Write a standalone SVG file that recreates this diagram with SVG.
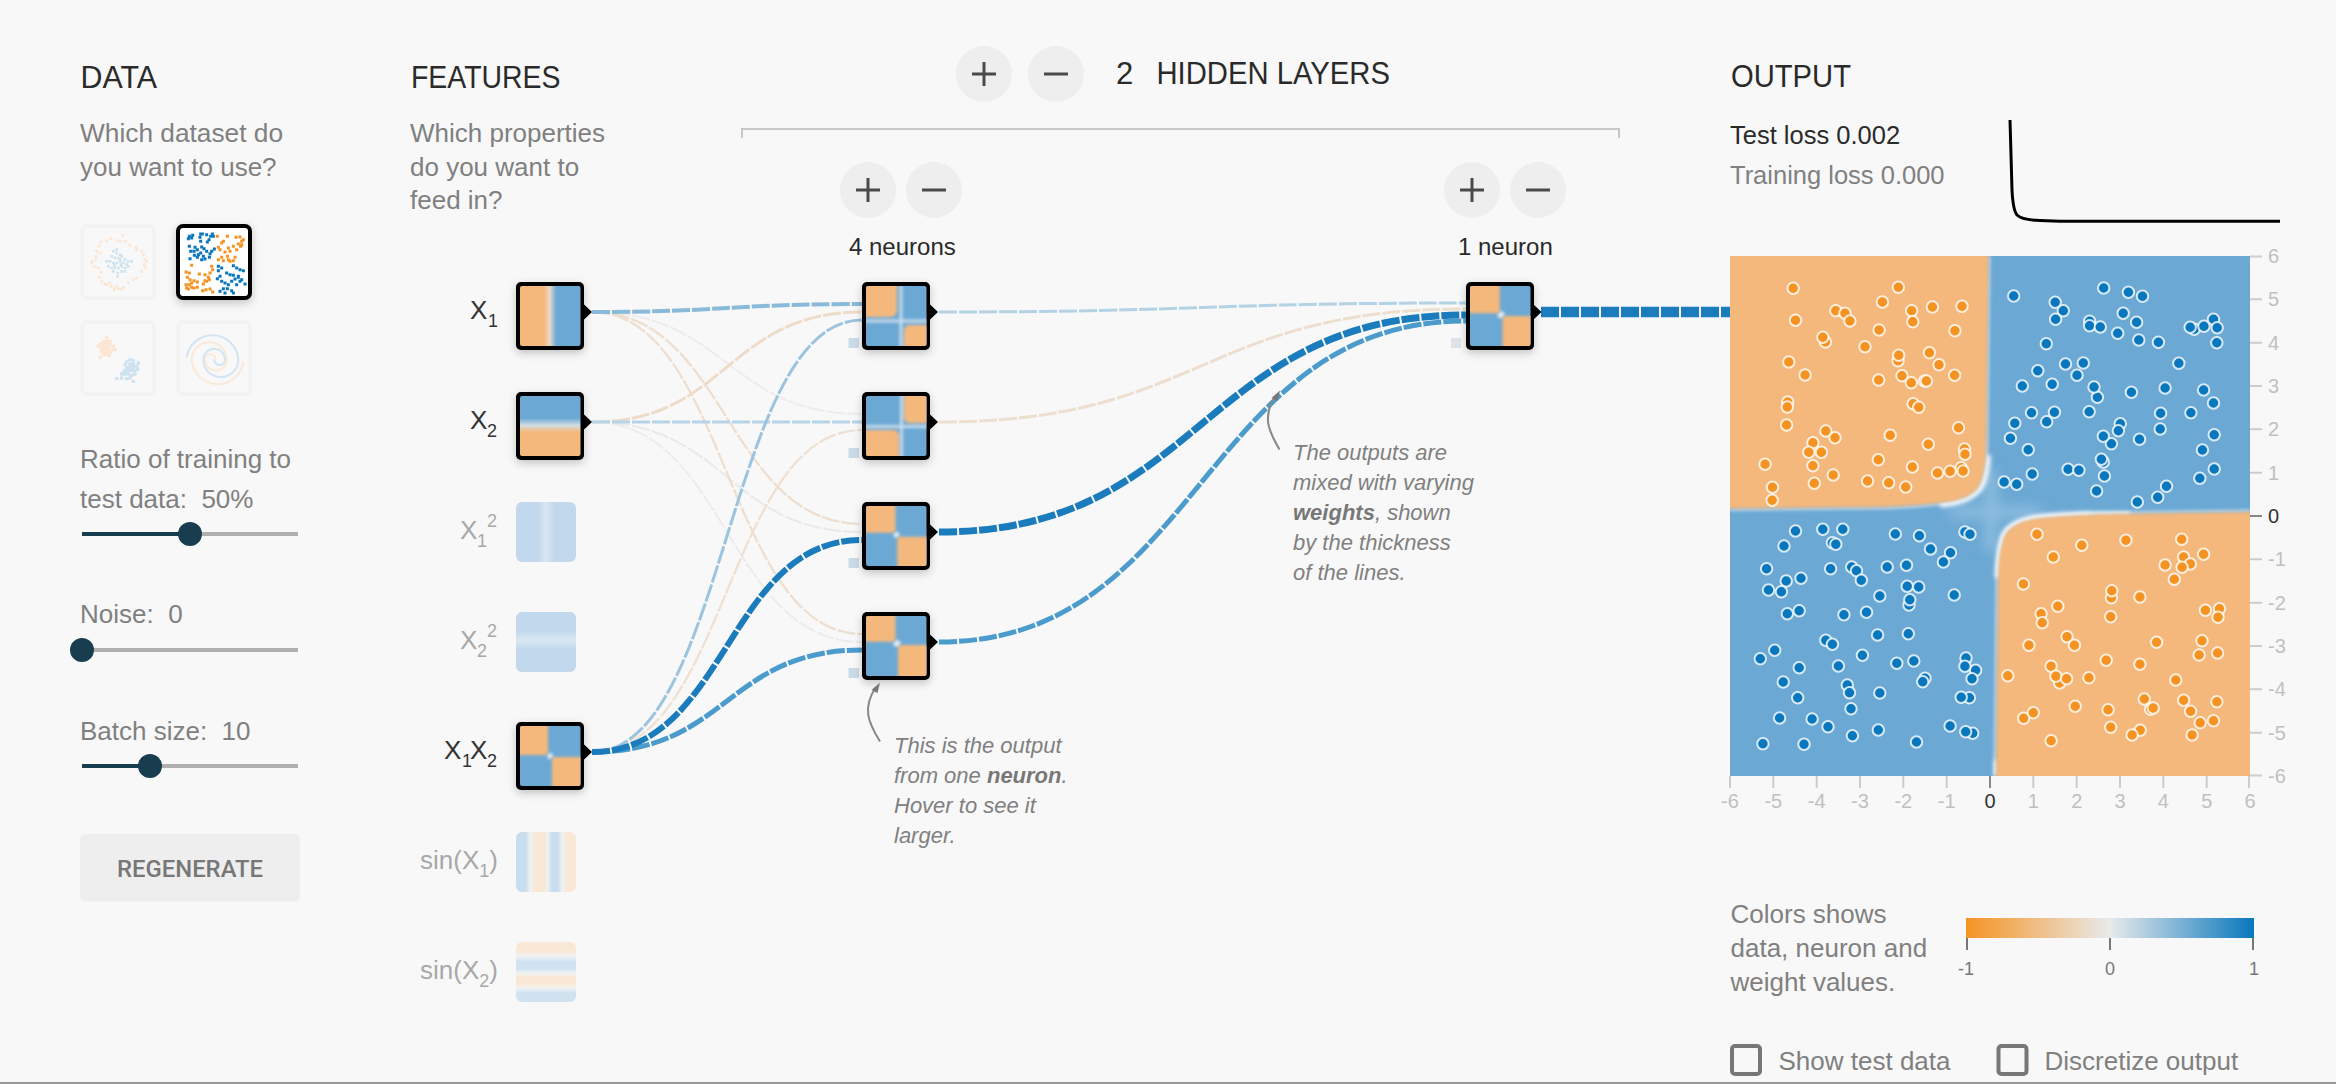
<svg xmlns="http://www.w3.org/2000/svg" width="2336" height="1084" viewBox="0 0 2336 1084">
<style>
text{font-family:"Liberation Sans",Arial,sans-serif;white-space:pre}
.h{font-size:31px;fill:#2a2a2a}
.p{font-size:26px;fill:#808080}
.feat{font-size:26px;fill:#333}
.feat tspan.s,.featd tspan.s{font-size:18px}
.featd{font-size:26px;fill:#a8a8a8}
.sub{font-size:18px;fill:#333}
.subd{font-size:18px;fill:#a8a8a8}
.note{font-size:22px;font-style:italic;fill:#808080}
.note tspan{font-weight:bold;fill:#777}
.n{font-size:24px;fill:#2a2a2a}
.ax{font-size:20px;fill:#c0c0c0}
.ax0{font-size:20px;fill:#333}
.leg{font-size:18px;fill:#777;text-anchor:middle}
.axm{text-anchor:middle}
.btn{fill:#eee}
.ic{stroke:#4a4a4a;stroke-width:3;fill:none}
.track{stroke:#b0b0b0;stroke-width:4}
.fill{stroke:#183d4e;stroke-width:4}
.knob{fill:#183d4e}
.thumb{fill:#f8f8f8;stroke:#f3f3f3;stroke-width:4}
.dsq{fill:none;stroke-linecap:square;stroke-width:8}
.dso{stroke:#fbe6d3}
.dsb{stroke:#cfe2f0}
.dso2{stroke:#f59322}
.dsb2{stroke:#0877bd}
.spi{fill:none;stroke-width:6}
.l{fill:none;stroke-dasharray:18 2}
.box{fill:#000}
.tri{fill:#000}
.mini{fill:#c9dbe7}
.hb{fill:#6ba8d4}
.ho{fill:#f5b87b}
.cross{fill:none;stroke:#dfe9f0;stroke-width:3;stroke-opacity:.8}
.do circle{fill:#f59322}
.db circle{fill:#0877bd}
.do circle,.db circle{r:5.700px;stroke:#fff;stroke-opacity:.8;stroke-width:2}
.tk{stroke:#ccc;stroke-width:2}
.tk0{stroke:#888;stroke-width:2}
.chk{fill:none;stroke:#777;stroke-width:4}
.arr{fill:none;stroke:#888;stroke-width:2}
.arh{fill:#777}
</style>
<defs>
<filter id="shadow" x="-30%" y="-30%" width="160%" height="170%"><feDropShadow dx="0" dy="3" stdDeviation="4" flood-color="#000" flood-opacity=".22"/></filter>
<filter id="b1" filterUnits="userSpaceOnUse" x="-6" y="-6" width="74" height="74"><feGaussianBlur stdDeviation="1.500"/></filter>
<filter id="bmap" x="-5%" y="-5%" width="110%" height="110%"><feGaussianBlur stdDeviation="1.500"/></filter>
<filter id="bmap2" x="-50%" y="-50%" width="200%" height="200%"><feGaussianBlur stdDeviation="6"/></filter>
<filter id="bmap3" x="-30%" y="-30%" width="160%" height="160%"><feGaussianBlur stdDeviation="2"/></filter>
<clipPath id="c60"><rect width="60.500" height="60" rx="2"/></clipPath>
<clipPath id="cmap"><rect x="1730" y="256" width="520" height="520"/></clipPath>
<linearGradient id="gx1"><stop offset=".4" stop-color="#f5b87b"/><stop offset=".49" stop-color="#e8d9c8"/><stop offset=".6" stop-color="#6ba8d4"/></linearGradient>
<linearGradient id="gx2" x2="0" y2="1"><stop offset=".37" stop-color="#6ba8d4"/><stop offset=".49" stop-color="#d2dde2"/><stop offset=".6" stop-color="#f5b87b"/></linearGradient>
<linearGradient id="gx1s"><stop offset=".36" stop-color="#c2d8ec"/><stop offset=".5" stop-color="#d9e7f2"/><stop offset=".64" stop-color="#c2d8ec"/></linearGradient>
<linearGradient id="gx2s" x2="0" y2="1"><stop offset=".31" stop-color="#c2d8ec"/><stop offset=".47" stop-color="#d9e7f2"/><stop offset=".63" stop-color="#c2d8ec"/></linearGradient>
<linearGradient id="gs1"><stop offset=".16" stop-color="#c8ddee"/><stop offset=".24" stop-color="#eef1f2"/><stop offset=".31" stop-color="#fae8d6"/><stop offset=".47" stop-color="#fae8d6"/><stop offset=".53" stop-color="#eef1f2"/><stop offset=".6" stop-color="#c8ddee"/><stop offset=".7" stop-color="#c8ddee"/><stop offset=".77" stop-color="#eef1f2"/><stop offset=".84" stop-color="#fae8d6"/></linearGradient>
<linearGradient id="gs2" x2="0" y2="1"><stop offset=".15" stop-color="#fae8d6"/><stop offset=".24" stop-color="#eff2f3"/><stop offset=".33" stop-color="#cfe2f0"/><stop offset=".44" stop-color="#cfe2f0"/><stop offset=".52" stop-color="#eff2f3"/><stop offset=".58" stop-color="#fae8d6"/><stop offset=".7" stop-color="#fae8d6"/><stop offset=".77" stop-color="#eff2f3"/><stop offset=".85" stop-color="#cfe2f0"/></linearGradient>
<linearGradient id="gleg"><stop offset="0" stop-color="#f59322"/><stop offset=".5" stop-color="#e8eaeb"/><stop offset="1" stop-color="#0877bd"/></linearGradient>
<path id="tri" d="M68,22.500 L76,30 L68,37.500Z"/>
</defs>
<rect id="bg" width="2336" height="1084" fill="#f8f8f8"/>
<rect id="baseline" y="1082" width="2336" height="2" fill="#999"/>

<g id="data-panel">
<text class="h" x="80.500" y="88" textLength="76.500" lengthAdjust="spacingAndGlyphs">DATA</text>
<text class="p" x="80" y="142" textLength="203" lengthAdjust="spacingAndGlyphs">Which dataset do</text>
<text class="p" x="80" y="176">you want to use?</text>
<g id="ds-circle"><rect class="thumb" x="82" y="226" width="72" height="72" rx="5"/>
<g transform="translate(75,218) scale(.33333)">
<path class="dsq dso" d="M143 52h.1M125 68h.1M108 62h.1M95 68h.1M78 72h.1M72 85h.1M65 100h.1M62 115h.1M52 130h.1M58 145h.1M70 150h.1M78 162h.1M72 178h.1M80 190h.1M95 200h.1M108 205h.1M118 215h.1M130 212h.1M145 208h.1M160 195h.1M175 185h.1M185 180h.1M200 160h.1M212 148h.1M215 130h.1M205 110h.1M200 100h.1M185 95h.1M165 82h.1M150 70h.1M135 70h.1M118 210h.1M125 205h.1M140 215h.1M105 195h.1M90 198h.1M75 105h.1M62 125h.1M50 135h.1M210 125h.1M208 140h.1M182 88h.1"/>
<path class="dsq dsb" d="M115 100h.1M125 105h.1M135 110h.1M110 115h.1M120 120h.1M130 120h.1M140 115h.1M150 125h.1M160 130h.1M170 130h.1M95 130h.1M105 130h.1M115 135h.1M125 135h.1M135 130h.1M145 135h.1M155 140h.1M100 145h.1M110 150h.1M120 150h.1M130 150h.1M140 145h.1M150 150h.1M160 145h.1M128 165h.1M128 175h.1M115 160h.1M140 160h.1M150 160h.1M135 125h.1M125 95h.1M118 142h.1M138 140h.1"/>
</g></g>
<g id="ds-xor"><rect x="178" y="226" width="72" height="72" rx="5" fill="#fff" stroke="#000" stroke-width="4" filter="url(#shadow)"/>
<g transform="translate(170,218) scale(.33333)">
<path class="dsq dsb2" style="stroke-width:9" d="M58 55h.1M65 60h.1M68 52h.1M55 62h.1M92 48h.1M97 48h.1M90 58h.1M92 70h.1M110 50h.1M127 48h.1M122 55h.1M117 65h.1M112 72h.1M130 55h.1M58 85h.1M75 88h.1M62 100h.1M72 100h.1M82 95h.1M95 87h.1M102 92h.1M110 100h.1M92 105h.1M85 110h.1M100 115h.1M105 123h.1M82 118h.1M60 122h.1M73 112h.1M118 118h.1M125 100h.1M133 93h.1M120 107h.1M95 125h.1M145 145h.1M155 150h.1M145 158h.1M190 143h.1M200 150h.1M210 155h.1M220 158h.1M150 175h.1M142 182h.1M155 190h.1M170 165h.1M180 170h.1M190 172h.1M205 178h.1M195 183h.1M215 185h.1M225 198h.1M210 190h.1M185 190h.1M165 195h.1M175 200h.1M150 220h.1M160 212h.1M172 212h.1M185 218h.1M190 225h.1M165 225h.1M200 200h.1M205 175h.1"/>
<path class="dsq dso2" style="stroke-width:9" d="M142 55h.1M172 55h.1M198 58h.1M210 57h.1M160 70h.1M155 75h.1M215 70h.1M220 65h.1M205 78h.1M212 85h.1M190 85h.1M175 90h.1M180 100h.1M200 95h.1M145 88h.1M150 95h.1M165 102h.1M145 125h.1M155 118h.1M172 115h.1M160 128h.1M175 125h.1M195 118h.1M190 128h.1M180 130h.1M215 80h.1M48 162h.1M58 165h.1M65 142h.1M88 168h.1M125 145h.1M128 155h.1M120 165h.1M105 170h.1M115 178h.1M52 178h.1M60 185h.1M65 195h.1M48 200h.1M58 200h.1M50 210h.1M72 188h.1M82 192h.1M72 210h.1M82 208h.1M110 190h.1M100 198h.1M105 188h.1M118 185h.1M98 218h.1M108 215h.1M120 213h.1M128 222h.1M55 213h.1M65 208h.1"/>
</g></g>
<g id="ds-gauss"><rect class="thumb" x="82" y="322" width="72" height="72" rx="5"/>
<g transform="translate(75,218) scale(.33333)">
<path class="dsq dso" style="stroke-width:10" d="M95 358h.1M85 370h.1M95 370h.1M105 370h.1M75 378h.1M85 380h.1M95 380h.1M105 380h.1M115 385h.1M70 385h.1M80 390h.1M90 390h.1M100 390h.1M110 395h.1M120 395h.1M78 400h.1M88 400h.1M98 400h.1M108 402h.1M85 410h.1M95 410h.1M75 418h.1M103 412h.1"/>
<path class="dsq dsb" style="stroke-width:10" d="M165 425h.1M175 428h.1M155 432h.1M150 440h.1M165 438h.1M175 438h.1M190 435h.1M155 448h.1M165 448h.1M175 448h.1M185 445h.1M148 458h.1M158 458h.1M168 458h.1M178 458h.1M188 455h.1M140 468h.1M150 468h.1M160 468h.1M170 472h.1M180 468h.1M125 482h.1M140 480h.1M155 482h.1M175 490h.1M165 480h.1"/>
</g></g>
<g id="ds-spiral"><rect class="thumb" x="178" y="322" width="72" height="72" rx="5"/>
<g transform="translate(75,218) scale(.33333)">
<path class="spi" stroke="#fbe9d8" d="M505 432A78 78 0 0 1 350 425A52.500 52.500 0 0 1 455 425A32.500 32.500 0 0 1 390 425A16 16 0 0 1 422 425"/>
<path class="spi" stroke="#d3e5f2" d="M335 418A78 78 0 0 1 490 425A52.500 52.500 0 0 1 385 425A32.500 32.500 0 0 1 450 425A16 16 0 0 1 418 425"/>
</g></g>
<text class="p" x="80" y="467.500">Ratio of training to</text>
<text class="p" x="80" y="507.500">test data:  50%</text>
<g id="slider-ratio"><line class="track" x1="190" y1="534" x2="298" y2="534"/><line class="fill" x1="82" y1="534" x2="190" y2="534"/><circle class="knob" cx="190" cy="534" r="12"/></g>
<text class="p" x="80" y="622.500">Noise:  0</text>
<g id="slider-noise"><line class="track" x1="82" y1="650" x2="298" y2="650"/><circle class="knob" cx="82" cy="650" r="12"/></g>
<text class="p" x="80" y="739.500">Batch size:  10</text>
<g id="slider-batch"><line class="track" x1="150" y1="766" x2="298" y2="766"/><line class="fill" x1="82" y1="766" x2="150" y2="766"/><circle class="knob" cx="150" cy="766" r="12"/></g>
<g id="regenerate"><rect x="80" y="834" width="220" height="67.500" rx="5" fill="#eee"/>
<text x="190" y="876.500" text-anchor="middle" textLength="146" lengthAdjust="spacingAndGlyphs" style="font-family:Roboto,sans-serif;font-weight:500;font-size:24px;fill:#777">REGENERATE</text></g>
</g>

<g id="features-head">
<text class="h" x="411" y="88" textLength="149.500" lengthAdjust="spacingAndGlyphs">FEATURES</text>
<text class="p" x="410" y="142">Which properties</text>
<text class="p" x="410" y="176">do you want to</text>
<text class="p" x="410" y="209">feed in?</text>
</g>

<g id="layers-head">
<g id="btn-layer-add"><circle class="btn" cx="984" cy="74" r="28"/><path class="ic" d="M972,74H996M984,62V86"/></g>
<g id="btn-layer-rem"><circle class="btn" cx="1056" cy="74" r="28"/><path class="ic" d="M1044,74H1068"/></g>
<text class="h" x="1116" y="84">2</text>
<text class="h" x="1156.500" y="84" textLength="233.500" lengthAdjust="spacingAndGlyphs">HIDDEN LAYERS</text>
<path id="bracket" d="M742,138V129H1619V138" fill="none" stroke="#c8c8c8" stroke-width="2"/>
<g id="btn-l1-add"><circle class="btn" cx="868" cy="190" r="28"/><path class="ic" d="M856,190H880M868,178V202"/></g>
<g id="btn-l1-rem"><circle class="btn" cx="934" cy="190" r="28"/><path class="ic" d="M922,190H946"/></g>
<g id="btn-l2-add"><circle class="btn" cx="1472" cy="190" r="28"/><path class="ic" d="M1460,190H1484M1472,178V202"/></g>
<g id="btn-l2-rem"><circle class="btn" cx="1538" cy="190" r="28"/><path class="ic" d="M1526,190H1550"/></g>
<text class="n" x="849" y="255">4 neurons</text>
<text class="n" x="1458" y="255">1 neuron</text>
</g>

<g id="connectors">
<path class="l" stroke="#ececec" stroke-width="2" d="M592,312C727,312 727,414 862,414"/>
<path class="l" stroke="#ececec" stroke-width="2" d="M592,422C727,422 727,642 862,642"/>
<path class="l" stroke="#e6eaee" stroke-width="2" d="M592,422C727,422 727,532 862,532"/>
<path class="l" stroke="#eddfcf" stroke-width="2.300" d="M592,312C727,312 727,524 862,524"/>
<path class="l" stroke="#eddfcf" stroke-width="2.300" d="M592,312C727,312 727,634 862,634"/>
<path class="l" stroke="#eee1d2" stroke-width="2.300" d="M592,752C727,752 727,430 862,430"/>
<path class="l" stroke="#eddcc8" stroke-width="3" d="M592,422C727,422 727,312 862,312"/>
<path class="l" stroke="#b7d3e7" stroke-width="3" d="M592,422H862"/>
<path class="l" stroke="#9cc4de" stroke-width="3" d="M592,752C727,752 727,320 862,320"/>
<path class="l" stroke="#8abad9" stroke-width="4" d="M592,312C727,312 727,304 862,304"/>
<path class="l" stroke="#4b9bcc" stroke-width="5" d="M592,752C727,752 727,650 862,650"/>
<path class="l" stroke="#1a7bbd" stroke-width="6" d="M592,752C727,752 727,540 862,540"/>
<path class="l" stroke="#b3d2e6" stroke-width="3" d="M939,312C1202,312 1202,303 1466,303"/>
<path class="l" stroke="#eddfcf" stroke-width="3" d="M939,422C1202,422 1202,309 1466,309"/>
<path class="l" stroke="#4b9bcc" stroke-width="5" d="M939,642C1202,642 1202,321 1466,321"/>
<path class="l" stroke="#1a7bbd" stroke-width="7" d="M939,532C1202,532 1202,315 1466,315"/>
<path class="l" stroke="#1a7bbd" stroke-width="10.500" d="M1541,312H1730"/>
</g>

<g id="input-x1" transform="translate(516,282)"><rect class="box" width="68" height="68" rx="5" filter="url(#shadow)"/><rect x="4" y="4" width="60.500" height="60" rx="2" fill="url(#gx1)"/><use href="#tri" class="tri"/></g>
<text class="feat" x="470" y="318.500">X</text><text class="sub" x="488" y="326.500">1</text>
<g id="input-x2" transform="translate(516,392)"><rect class="box" width="68" height="68" rx="5" filter="url(#shadow)"/><rect x="4" y="4" width="60.500" height="60" rx="2" fill="url(#gx2)"/><use href="#tri" class="tri"/></g>
<text class="feat" x="470" y="428.500">X</text><text class="sub" x="487" y="437">2</text>
<g id="input-x1sq"><rect x="516" y="502" width="60" height="60" rx="6" fill="url(#gx1s)"/><text class="featd" x="460" y="539">X</text><text class="subd" x="477" y="546.500">1</text><text class="subd" x="487" y="527">2</text></g>
<g id="input-x2sq"><rect x="516" y="612" width="60" height="60" rx="6" fill="url(#gx2s)"/><text class="featd" x="460" y="648.500">X</text><text class="subd" x="477" y="657">2</text><text class="subd" x="487" y="637">2</text></g>
<g id="input-x1x2" transform="translate(516,722)"><rect class="box" width="68" height="68" rx="5" filter="url(#shadow)"/>
<g transform="translate(4,4)" clip-path="url(#c60)"><rect class="hb" width="61" height="60"/><circle cx="30" cy="30" r="3" fill="#dfe9f0" filter="url(#b1)"/><g filter="url(#b1)"><path class="ho" d="M-5,-5H28V26Q28,29 25,29H-5Z"/><path class="ho" d="M66,66H32V34Q32,31 35,31H66Z"/></g></g><use href="#tri" class="tri"/></g>
<text class="feat" x="444" y="758.500">X</text><text class="sub" x="462" y="766.500">1</text><text class="feat" x="470" y="758.500">X</text><text class="sub" x="487" y="766.500">2</text>
<g id="input-sinx1"><rect x="516" y="832" width="60" height="60" rx="6" fill="url(#gs1)"/><text class="featd" x="420" y="869">sin(X<tspan class="s" dy="8">1</tspan><tspan dy="-8">)</tspan></text></g>
<g id="input-sinx2"><rect x="516" y="942" width="60" height="60" rx="6" fill="url(#gs2)"/><text class="featd" x="420" y="979">sin(X<tspan class="s" dy="8">2</tspan><tspan dy="-8">)</tspan></text></g>

<g id="neuron-1" transform="translate(862,282)"><rect class="mini" x="-13.500" y="56" width="10.500" height="10"/><rect class="box" width="68" height="68" rx="5" filter="url(#shadow)"/>
<g transform="translate(4,4)" clip-path="url(#c60)"><rect class="hb" width="61" height="60"/><g filter="url(#b1)"><path class="cross" d="M35,-3V66M-3,35H66"/><path class="ho" d="M-5,-5H31V24Q31,31 24,31H-5Z"/><path class="ho" d="M66,66H38V45Q38,39 44,39H66Z"/></g></g><use href="#tri" class="tri"/></g>
<g id="neuron-2" transform="translate(862,392)"><rect class="mini" x="-13.500" y="56" width="10.500" height="10"/><rect class="box" width="68" height="68" rx="5" filter="url(#shadow)"/>
<g transform="translate(4,4)" clip-path="url(#c60)"><rect class="hb" width="61" height="60"/><g filter="url(#b1)"><path class="cross" d="M35.500,-3V66M-3,30.500H66"/><path class="ho" d="M66,-5H38V21Q38,27 44,27H66Z"/><path class="ho" d="M-5,66H33V40Q33,34 27,34H-5Z"/></g></g><use href="#tri" class="tri"/></g>
<g id="neuron-3" transform="translate(862,502)"><rect class="mini" x="-13.500" y="56" width="10.500" height="10"/><rect class="box" width="68" height="68" rx="5" filter="url(#shadow)"/>
<g transform="translate(4,4)" clip-path="url(#c60)"><rect class="hb" width="61" height="60"/><circle cx="30.500" cy="28.700" r="3" fill="#dfe9f0" filter="url(#b1)"/><g filter="url(#b1)"><path class="ho" d="M-5,-5H29.500V24Q29.500,26.700 27,26.700H-5Z"/><path class="ho" d="M66,66H31.300V33Q31.300,30.700 34,30.700H66Z"/></g></g><use href="#tri" class="tri"/></g>
<g id="neuron-4" transform="translate(862,612)"><rect class="mini" x="-13.500" y="56" width="10.500" height="10"/><rect class="box" width="68" height="68" rx="5" filter="url(#shadow)"/>
<g transform="translate(4,4)" clip-path="url(#c60)"><rect class="hb" width="61" height="60"/><circle cx="31" cy="27.500" r="3.500" fill="#dfe9f0" filter="url(#b1)"/><g filter="url(#b1)"><path class="ho" d="M-5,-5H29.500V22Q29.500,25.700 26,25.700H-5Z"/><path class="ho" d="M66,66H32V33Q32,29 36,29H66Z"/></g></g><use href="#tri" class="tri"/></g>
<g id="neuron-out" transform="translate(1466,282)"><rect class="mini" style="fill:#dde3e9" x="-15" y="56" width="10" height="10"/><rect class="box" width="68" height="68" rx="5" filter="url(#shadow)"/>
<g transform="translate(4,4)" clip-path="url(#c60)"><rect class="hb" width="61" height="60"/><circle cx="31" cy="28.700" r="3.500" fill="#dfe9f0" filter="url(#b1)"/><g filter="url(#b1)"><path class="ho" d="M-5,-5H29.800V24Q29.800,27.300 26,27.300H-5Z"/><path class="ho" d="M66,66H32.600V33Q32.600,30 36,30H66Z"/></g></g><use href="#tri" class="tri" transform="translate(-.5,0)"/></g>

<g id="note-neuron">
<path class="arr" d="M880,741.500C868,722 862,708 876,687"/><path class="arh" d="M880,682.500L871.500,690L877.500,693Z"/>
<text class="note" x="894" y="752.700">This is the output</text>
<text class="note" x="894" y="782.700">from one <tspan>neuron</tspan>.</text>
<text class="note" x="894" y="812.700">Hover to see it</text>
<text class="note" x="894" y="842.700">larger.</text>
</g>
<g id="note-weights">
<path class="arr" d="M1279.500,449.500C1268,430 1262,416 1276,395"/><path class="arh" d="M1280,390.500L1271.500,398L1277.500,401Z"/>
<text class="note" x="1293" y="460">The outputs are</text>
<text class="note" x="1293" y="490">mixed with varying</text>
<text class="note" x="1293" y="520"><tspan>weights</tspan>, shown</text>
<text class="note" x="1293" y="550">by the thickness</text>
<text class="note" x="1293" y="580">of the lines.</text>
</g>

<g id="output-head">
<text class="h" x="1731" y="87" textLength="120" lengthAdjust="spacingAndGlyphs">OUTPUT</text>
<text x="1730" y="143.500" style="font-size:25.500px;fill:#2a2a2a">Test loss 0.002</text>
<text x="1730" y="184" style="font-size:25.500px;fill:#808080">Training loss 0.000</text>
<path id="loss-curve" d="M2010,120L2012,190Q2013,210 2017,215Q2022,220 2040,220.500L2060,221.300H2280" fill="none" stroke="#000" stroke-width="3"/>
</g>

<g id="heatmap" clip-path="url(#cmap)">
<rect class="hb" x="1730" y="256" width="520" height="520"/>
<g fill="none" stroke="#8cbcde" filter="url(#bmap2)" stroke-width="12"><path d="M1991,470V552"/><path d="M1950,512H2040"/></g>
<g fill="none" stroke="#f2f5f8" stroke-width="3.500" filter="url(#bmap)">
<path id="edge-tl" stroke-opacity=".5" d="M1989,256L1987,440Q1986.500,480 1977,490.500Q1966,501 1945,503Q1920,507 1880,508L1730,509.500"/>
<path id="edge-br" stroke-opacity=".5" d="M2250,511L2107,513Q2050,515 2033,518Q2011,522 2004,534Q1998,548 1997,577L1995,776"/>
</g>
<g fill="none" stroke="#fff" stroke-width="5" filter="url(#bmap3)">
<path id="glow-tl" stroke-opacity=".95" d="M1988.500,455Q1987,482 1978,491.500Q1966,503 1940,505"/>
<path id="glow-br" stroke-opacity=".95" d="M2090,514Q2048,515 2033,518Q2011,522 2004,534Q1998,548 1997.500,578"/>
<path stroke-opacity=".9" d="M2085,514H2130" stroke-width="4"/>
<path stroke-opacity=".85" d="M1996,760V776" stroke-width="4"/>
</g>
<g filter="url(#bmap)">
<path class="ho" d="M1725,250H1988.500L1986.500,440Q1986,480 1976,490Q1966,500 1945,502Q1920,506 1880,507L1725,508.500Z"/>
<path class="ho" d="M2256,512L2107,514Q2050,516 2033,519Q2012,523 2005,535Q1999,548 1998,577L1996,782H2256Z"/>
</g>
</g>

<g id="points">
<g class="do">
<circle cx="1793.200" cy="288.300"/><circle cx="1898.300" cy="287.300"/><circle cx="1882.400" cy="302"/><circle cx="1835.800" cy="310.700"/><circle cx="1845" cy="313.300"/><circle cx="1849.900" cy="321"/><circle cx="1795.500" cy="320.300"/><circle cx="1911.600" cy="310.700"/><circle cx="1912.800" cy="321.700"/><circle cx="1932.400" cy="307"/><circle cx="1962" cy="306.300"/><circle cx="1879.100" cy="330"/><circle cx="1954.900" cy="330.700"/><circle cx="1825.400" cy="342"/><circle cx="1822.800" cy="337.300"/><circle cx="1865" cy="346.700"/><circle cx="1788.800" cy="362"/><circle cx="1805.100" cy="375"/><circle cx="1898" cy="360.700"/><circle cx="1898.700" cy="355.300"/><circle cx="1929.400" cy="352.700"/><circle cx="1939" cy="364.700"/><circle cx="1954.600" cy="375.300"/><circle cx="1878.700" cy="380"/><circle cx="1902" cy="375.700"/><circle cx="1911.300" cy="382.700"/><circle cx="1924.600" cy="381"/><circle cx="1926.400" cy="381"/><circle cx="1787.700" cy="402"/><circle cx="1787.300" cy="407"/><circle cx="1913.100" cy="403.700"/><circle cx="1918.700" cy="407.300"/><circle cx="1786.600" cy="425"/><circle cx="1958.600" cy="427.700"/><circle cx="1825.800" cy="431"/><circle cx="1835" cy="437.700"/><circle cx="1890.200" cy="435.300"/><circle cx="1812.900" cy="442.700"/><circle cx="1928.300" cy="444.300"/><circle cx="1964.500" cy="449"/><circle cx="1965" cy="454.300"/><circle cx="1808.800" cy="452.300"/><circle cx="1821.400" cy="452.300"/><circle cx="1878.300" cy="459.700"/><circle cx="1765.100" cy="464.300"/><circle cx="1812.900" cy="465.700"/><circle cx="1912.400" cy="467"/><circle cx="1961.200" cy="467.700"/><circle cx="1963.100" cy="471"/><circle cx="1950.100" cy="471.300"/><circle cx="1937.500" cy="473"/><circle cx="1833.200" cy="475"/><circle cx="1867.600" cy="481"/><circle cx="1888.700" cy="482.700"/><circle cx="1814.300" cy="483.300"/><circle cx="1905.700" cy="487"/><circle cx="1772.500" cy="487.300"/><circle cx="1772.200" cy="500.300"/>
<circle cx="2037" cy="534.300"/><circle cx="2125.900" cy="540.300"/><circle cx="2181.700" cy="539.300"/><circle cx="2081.800" cy="545.300"/><circle cx="2183.600" cy="557"/><circle cx="2203.600" cy="554.300"/><circle cx="2053.300" cy="557"/><circle cx="2190.300" cy="564"/><circle cx="2165.100" cy="565"/><circle cx="2182.100" cy="567.300"/><circle cx="2174.300" cy="579.300"/><circle cx="2023.400" cy="584"/><circle cx="2111.400" cy="597.700"/><circle cx="2111.800" cy="590.700"/><circle cx="2139.900" cy="597"/><circle cx="2057.800" cy="606.300"/><circle cx="2219.500" cy="608.700"/><circle cx="2205.400" cy="610.300"/><circle cx="2218" cy="617.300"/><circle cx="2041.100" cy="613.700"/><circle cx="2110.700" cy="616.700"/><circle cx="2042.200" cy="622.700"/><circle cx="2067" cy="636.700"/><circle cx="2074.400" cy="645.300"/><circle cx="2028.900" cy="645.300"/><circle cx="2156.600" cy="642.300"/><circle cx="2202" cy="640.700"/><circle cx="2199.100" cy="655"/><circle cx="2217.600" cy="653"/><circle cx="2106.200" cy="660.300"/><circle cx="2139.900" cy="664.300"/><circle cx="2051.100" cy="666.300"/><circle cx="2007.800" cy="675.700"/><circle cx="2059.600" cy="683"/><circle cx="2055.900" cy="676.300"/><circle cx="2066.600" cy="678.700"/><circle cx="2088.900" cy="677.700"/><circle cx="2175.800" cy="680"/><circle cx="2144.300" cy="699"/><circle cx="2183.600" cy="700.300"/><circle cx="2216.900" cy="701.700"/><circle cx="2075.200" cy="706.300"/><circle cx="2108.100" cy="709.700"/><circle cx="2150.600" cy="709.300"/><circle cx="2153.200" cy="708"/><circle cx="2190.600" cy="711.300"/><circle cx="2023.700" cy="718.300"/><circle cx="2033.300" cy="712.700"/><circle cx="2213.500" cy="720.700"/><circle cx="2200.200" cy="722.700"/><circle cx="2110.700" cy="727.300"/><circle cx="2140.200" cy="730.300"/><circle cx="2132.100" cy="735"/><circle cx="2192.100" cy="735"/><circle cx="2051.100" cy="740.700"/>
</g>
<g class="db">
<circle cx="2013.700" cy="296"/><circle cx="2103.700" cy="288"/><circle cx="2128.400" cy="292.300"/><circle cx="2142.500" cy="296.300"/><circle cx="2063.300" cy="310.700"/><circle cx="2055.200" cy="302.300"/><circle cx="2055.600" cy="319.300"/><circle cx="2123.200" cy="313.300"/><circle cx="2089.600" cy="321.300"/><circle cx="2089.600" cy="325.700"/><circle cx="2100.300" cy="327"/><circle cx="2136.600" cy="322.300"/><circle cx="2117.700" cy="333.300"/><circle cx="2138.800" cy="340"/><circle cx="2158.400" cy="342.300"/><circle cx="2213.500" cy="319.300"/><circle cx="2194.200" cy="329.300"/><circle cx="2190.200" cy="327.300"/><circle cx="2203.900" cy="326.300"/><circle cx="2217.200" cy="327.700"/><circle cx="2216.800" cy="342.700"/><circle cx="2046.300" cy="343.700"/><circle cx="2065.500" cy="364"/><circle cx="2083.300" cy="363"/><circle cx="2037.800" cy="370.700"/><circle cx="2077" cy="375.300"/><circle cx="2178.800" cy="363.300"/><circle cx="2022.300" cy="386"/><circle cx="2052.200" cy="384.300"/><circle cx="2097.400" cy="397.300"/><circle cx="2094" cy="387"/><circle cx="2131.400" cy="392.300"/><circle cx="2165.100" cy="388"/><circle cx="2203.600" cy="390"/><circle cx="2213.500" cy="403"/><circle cx="2031.500" cy="412.700"/><circle cx="2046.700" cy="421.700"/><circle cx="2054.400" cy="412.300"/><circle cx="2089.200" cy="411.700"/><circle cx="2160.600" cy="413.300"/><circle cx="2190.900" cy="412.700"/><circle cx="2014.800" cy="423.300"/><circle cx="2120.300" cy="423.700"/><circle cx="2118.400" cy="430.700"/><circle cx="2160.200" cy="429"/><circle cx="2214.200" cy="434.700"/><circle cx="2010.400" cy="438.300"/><circle cx="2111.400" cy="443.700"/><circle cx="2103.300" cy="436.300"/><circle cx="2139.500" cy="439.300"/><circle cx="2028.200" cy="449.700"/><circle cx="2202.400" cy="450"/><circle cx="2103.300" cy="462"/><circle cx="2101.400" cy="459.300"/><circle cx="2068.100" cy="469.300"/><circle cx="2078.900" cy="470.300"/><circle cx="2214.200" cy="469"/><circle cx="2032.200" cy="474"/><circle cx="2104.400" cy="476"/><circle cx="2199.800" cy="478.300"/><circle cx="2004.100" cy="482"/><circle cx="2016.700" cy="484.300"/><circle cx="2166.500" cy="486.300"/><circle cx="2096.600" cy="491"/><circle cx="2157.700" cy="497.300"/><circle cx="2137.300" cy="502"/>
<circle cx="1795.500" cy="531"/><circle cx="1822.800" cy="529.300"/><circle cx="1842.800" cy="529.300"/><circle cx="1895.300" cy="534"/><circle cx="1919.400" cy="535.700"/><circle cx="1964.900" cy="532"/><circle cx="1970" cy="534.300"/><circle cx="1832.400" cy="542.700"/><circle cx="1835.800" cy="544.300"/><circle cx="1784" cy="546"/><circle cx="1930.500" cy="549"/><circle cx="1950.500" cy="552.700"/><circle cx="1943.400" cy="562"/><circle cx="1766.600" cy="568.700"/><circle cx="1830.600" cy="568.700"/><circle cx="1851.700" cy="567"/><circle cx="1856.500" cy="570.700"/><circle cx="1887.200" cy="567"/><circle cx="1906.500" cy="565.300"/><circle cx="1861.300" cy="580.300"/><circle cx="1801" cy="578.300"/><circle cx="1786.200" cy="581"/><circle cx="1768.500" cy="590"/><circle cx="1781.400" cy="591.700"/><circle cx="1907.200" cy="586.300"/><circle cx="1918.700" cy="587"/><circle cx="1879.800" cy="596"/><circle cx="1954.200" cy="595"/><circle cx="1909" cy="605"/><circle cx="1909.800" cy="599.700"/><circle cx="1799.200" cy="610.700"/><circle cx="1787.300" cy="613.700"/><circle cx="1843.900" cy="614.700"/><circle cx="1866.500" cy="612.300"/><circle cx="1908.300" cy="633.700"/><circle cx="1877.600" cy="635"/><circle cx="1825.800" cy="640.300"/><circle cx="1832.400" cy="644.300"/><circle cx="1774.700" cy="650.300"/><circle cx="1760.300" cy="658.700"/><circle cx="1862.400" cy="655.300"/><circle cx="1966" cy="658"/><circle cx="1913.800" cy="661"/><circle cx="1896.800" cy="663.300"/><circle cx="1838.400" cy="666"/><circle cx="1799.200" cy="667.700"/><circle cx="1975.600" cy="670.300"/><circle cx="1964.900" cy="666.300"/><circle cx="1972" cy="678.700"/><circle cx="1925" cy="678.300"/><circle cx="1922.700" cy="681.700"/><circle cx="1783.200" cy="682"/><circle cx="1847.300" cy="685"/><circle cx="1849.500" cy="692.700"/><circle cx="1879.800" cy="693"/><circle cx="1797.700" cy="697.700"/><circle cx="1969.400" cy="697.700"/><circle cx="1961.200" cy="697.300"/><circle cx="1851" cy="708.700"/><circle cx="1779.600" cy="718"/><circle cx="1812.100" cy="719"/><circle cx="1828" cy="726.700"/><circle cx="1950.100" cy="726"/><circle cx="1878.300" cy="730"/><circle cx="1972.700" cy="733.300"/><circle cx="1965.700" cy="731.700"/><circle cx="1852.400" cy="735.700"/><circle cx="1916.500" cy="742"/><circle cx="1762.900" cy="743.700"/><circle cx="1804" cy="744.300"/>
</g>
</g>

<g id="axes">
<path class="tk" d="M2250,256.500H2262M2250,299.300H2262M2250,342.700H2262M2250,386H2262M2250,429.300H2262M2250,472.700H2262M2250,559.300H2262M2250,602.700H2262M2250,646H2262M2250,689.300H2262M2250,732.700H2262M2250,775.500H2262"/>
<path class="tk0" d="M2250,516H2262"/>
<text class="ax" x="2268" y="263">6</text><text class="ax" x="2268" y="306">5</text><text class="ax" x="2268" y="350">4</text><text class="ax" x="2268" y="393">3</text><text class="ax" x="2268" y="436">2</text><text class="ax" x="2268" y="480">1</text><text class="ax0" x="2268" y="523">0</text>
<text class="ax" x="2268" y="566">-1</text><text class="ax" x="2268" y="610">-2</text><text class="ax" x="2268" y="653">-3</text><text class="ax" x="2268" y="696">-4</text><text class="ax" x="2268" y="740">-5</text><text class="ax" x="2268" y="783">-6</text>
<path class="tk" d="M1730,776V788M1773.300,776V788M1816.700,776V788M1860,776V788M1903.300,776V788M1946.700,776V788M2033.300,776V788M2076.700,776V788M2120,776V788M2163.300,776V788M2206.700,776V788M2249,776V788"/>
<path class="tk0" d="M1990,776V788"/>
<text class="ax axm" x="1730" y="808">-6</text><text class="ax axm" x="1773.300" y="808">-5</text><text class="ax axm" x="1816.700" y="808">-4</text><text class="ax axm" x="1860" y="808">-3</text><text class="ax axm" x="1903.300" y="808">-2</text><text class="ax axm" x="1946.700" y="808">-1</text><text class="ax0 axm" x="1990" y="808">0</text><text class="ax axm" x="2033.300" y="808">1</text><text class="ax axm" x="2076.700" y="808">2</text><text class="ax axm" x="2120" y="808">3</text><text class="ax axm" x="2163.300" y="808">4</text><text class="ax axm" x="2206.700" y="808">5</text><text class="ax axm" x="2250" y="808">6</text>
</g>

<g id="legend">
<text class="p" x="1730.500" y="923">Colors shows</text>
<text class="p" x="1730.500" y="957">data, neuron and</text>
<text class="p" x="1730.500" y="990.500">weight values.</text>
<rect x="1966" y="918" width="288" height="20" fill="url(#gleg)"/>
<path d="M1967,938V950M2110,938V950M2253,938V950" stroke="#777" stroke-width="2"/>
<text class="leg" x="1966" y="975">-1</text><text class="leg" x="2110" y="975">0</text><text class="leg" x="2254" y="975">1</text>
</g>
<g id="toggle-test"><rect class="chk" x="1732" y="1046" width="28" height="28" rx="3"/><text class="p" x="1778.500" y="1069.500">Show test data</text></g>
<g id="toggle-disc"><rect class="chk" x="1998.500" y="1046" width="28" height="28" rx="3"/><text class="p" x="2044.500" y="1069.500">Discretize output</text></g>
</svg>
